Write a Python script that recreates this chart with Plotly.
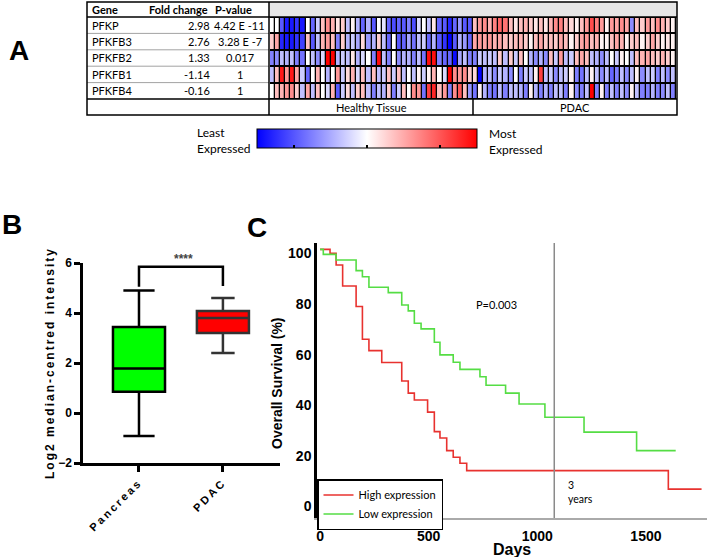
import plotly.graph_objects as go

W, H = 709, 557
def fx(px): return px / W
def fy(py): return 1 - py / H

# ---------------- Panel A data ----------------
genes = ["PFKP", "PFKFB3", "PFKFB2", "PFKFB1", "PFKFB4"]
fold_change = ["2.98", "2.76", "1.33", "-1.14", "-0.16"]
p_values = ["4.42 E -11", "3.28 E -7", "0.017", "1", "1"]
tissue_groups = ["Healthy Tissue", "PDAC"]

healthy_PFKP = [0, 0, -1.3, -1.8, -1.8, -1.6, -1.8, 0, -1.2, -0.4, 0.5, 0.9, 0.6, 0.2, 0.4, -0.5, 0.1, -0.6, -1.2, -0.6,
                -1.3, 0, -0.2, -1.2, -1.4, -1.2, -1.3, -1.0, -1.4, -0.3, 0, -0.5, 0.2, -1.2, -1.3, -1.7, -1.2, -0.8, -1.3, -1.3]
healthy_PFKFB3 = [0.4, 0.7, -1.7, -1.8, -1.8, -1.6, -1.5, 0.5, -1.3, -0.5, 0.6, 0.8, 0.5, -1.0, 0.4, -0.6, -0.4, -0.7, 0.3, -0.8,
                  -0.6, 0.4, -0.5, -1.2, 0, -1.3, -1.2, -0.7, -1.1, -0.5, -0.4, -1.2, -0.6, -1.3, -1.6, -2.0, -1.3, -0.6, -0.8, -1.2]
healthy_PFKFB2 = [-1.0, -0.9, -0.5, -0.6, -0.5, -1.0, -1.1, 0, -0.5, -0.9, -0.3, 2.0, 2.0, -0.6, -0.4, -0.5, 0.2, -0.6, -0.3, 0,
                  -1.0, 1.9, -0.5, -1.0, 0, -0.9, -0.6, -0.6, -1.0, -0.5, -1.1, 1.9, 1.9, -1.0, -1.2, -1.2, -1.9, -0.7, -0.5, -1.0]
healthy_PFKFB1 = [-0.5, 0.5, 1.8, 0.8, 1.8, 0.7, -0.4, -1.2, 0, 0.6, 0, -0.6, 0, 0.8, -0.4, 0.3, 0.6, -0.3, 0.5, -0.5,
                  0.5, -0.5, -0.4, 0.5, -0.4, 0.5, -0.5, 0, -0.5, 0.1, -0.4, 0.1, 0.6, 0, -0.3, 2.0, 0.9, 0.8, 0.9, 0.4]
healthy_PFKFB4 = [0, 0.5, 0.6, 0.8, 0.9, 0.4, -0.5, 0.7, -0.5, 0.5, 0, -0.3, 0.6, -1.3, -0.4, 0.3, -0.5, 0.4, 0.5, -0.5,
                  -1.0, -0.5, -0.6, 0.4, -1.0, -0.4, 0.5, 0, 0.9, 0.8, -1.1, 1.5, 1.7, 0.5, 0.8, -1.0, 0.9, 1.3, 0.5, -0.8]

pdac_PFKP = [0.5, 0.8, 0.9, 0.6, 1.0, 1.2, 1.1, 0.5, 0.2, 0.5, 0.6, 0.4, 0.2, 0.5, 0.2, 0.6, 0.9, 1.0, 0.5, 0.3,
             0.1, 0.5, 0.8, 1.4, 1.0, 0.8, 0.1, 0.8, 0.7, 0.9, 0.7, -0.9, 0.5, 0.4, 0.8, 0.5, 0.9, 0.6, 0.4, 0.1]
pdac_PFKFB3 = [0.7, 0.8, 0.7, 0.8, 0.6, 0.7, 0.5, 0.4, 0.5, 0.6, 0.4, 0.1, 0.5, 0.7, 0.4, 0.5, 0.4, 0.7, 0.5, 0.1,
               0.4, 0.7, 0.8, 0.5, 0.6, 0.1, 0.1, 0.5, 0.7, 0.6, 0.1, 0.4, 0.5, 0.1, 0.4, 0.7, 0.4, 0.1, 0.2, 0.1]
pdac_PFKFB2 = [-1.0, -0.4, -0.5, -0.4, -0.5, 0.4, -0.5, 0.4, -0.4, 0.5, 0, -0.6, -0.9, -0.6, -0.9, 0.5, -0.4, 0.8, -0.5, -0.4,
               0.5, 0.7, 0.5, -0.5, -0.6, -0.9, -0.5, 0, -0.4, 0.1, 0, -0.5, 0.5, 0.6, 0.7, 0.5, 0.4, 0.6, 0.4, 0.1]
pdac_PFKFB1 = [0.3, -2.0, -0.6, -0.5, -0.9, -0.4, -0.6, -0.9, 0, -1.0, -0.4, -0.5, 0.1, 1.5, -0.5, -0.4, -0.9, -0.5, -0.4, 0.1,
               -1.0, -1.1, -0.5, 0.1, -0.5, -0.9, -0.5, -1.2, -1.0, -0.5, -0.9, -0.5, 0.1, -0.9, -0.5, -0.4, -1.0, -0.5, -0.9, -0.5]
pdac_PFKFB4 = [-1.1, 0.1, -0.6, -1.0, -1.1, -0.5, -1.0, -0.5, -0.5, -0.6, -1.0, 0.1, -0.6, -1.0, -0.6, -1.0, -0.5, -0.5, -1.0, 0.1,
               -0.9, -1.0, -0.5, 2.0, -1.0, 0.1, -1.0, -0.5, -1.0, -0.5, -0.9, 0.1, -0.5, -1.0, -1.0, -0.6, -1.0, -0.9, -0.5, -1.0]

colorbar_ticks = [-1.33, 0, 1.33]

# ---------------- Panel B data ----------------
box_categories = ["Pancreas", "PDAC"]
box_q1 = [0.85, 3.2]
box_median = [1.78, 3.8]
box_q3 = [3.44, 4.08]
box_lower = [-0.92, 2.4]
box_upper = [4.9, 4.6]
box_yticks = [-2, 0, 2, 4, 6]
sig_label = "****"

# ---------------- Panel C data ----------------
days_high = [0, 46, 74, 104, 166, 195, 225, 284, 376, 406, 434, 495, 526, 552, 583, 613, 644, 675, 1603, 1756]
surv_high = [100, 98.4, 93.8, 85.5, 77.4, 64.5, 60.0, 55.3, 48.0, 43.2, 40.5, 35.7, 28.0, 25.5, 20.5, 17.9, 15.5, 12.6, 5.3, 5.3]
days_low = [0, 15, 74, 166, 195, 225, 314, 376, 406, 434, 465, 526, 552, 613, 644, 736, 764, 854, 916, 1035, 1215, 1457, 1637]
surv_low = [100, 98.0, 95.8, 91.6, 89.2, 85.0, 82.9, 78.0, 75.7, 70.8, 68.6, 63.3, 58.3, 55.4, 52.6, 49.7, 46.3, 43.2, 38.9, 33.7, 27.8, 20.5, 20.5]
km_xticks = [0, 500, 1000, 1500]
km_yticks = [0, 20, 40, 60, 80, 100]
three_years_day = 1078
p_text = "P=0.003"

# ---------------- build ----------------
healthy = [healthy_PFKP, healthy_PFKFB3, healthy_PFKFB2, healthy_PFKFB1, healthy_PFKFB4]
pdac = [pdac_PFKP, pdac_PFKFB3, pdac_PFKFB2, pdac_PFKFB1, pdac_PFKFB4]
z = [h + p for h, p in zip(healthy, pdac)]
ncol = len(z[0])

TFONT = "Lato"
AFONT = "Liberation Sans"

fig = go.Figure()

cb_x0, cb_len, cb_top, cb_th = 257, 220, 129, 19
fig.add_trace(go.Heatmap(
    z=z, x=list(range(ncol)), y=list(range(len(genes))),
    zmin=-2, zmax=2,
    colorscale=[[0, "#0000ff"], [0.5, "#ffffff"], [1, "#ff0000"]],
    xgap=1.3, ygap=2, xaxis="x", yaxis="y", hoverinfo="skip",
    colorbar=dict(orientation="h", xref="container", yref="container",
                  x=fx(cb_x0), xanchor="left", y=fy(cb_top), yanchor="top",
                  len=cb_len, lenmode="pixels", thickness=cb_th, thicknessmode="pixels",
                  outlinewidth=1, outlinecolor="black", borderwidth=0,
                  ticks="inside", ticklen=3, tickwidth=1.5, tickcolor="black",
                  tickvals=colorbar_ticks, showticklabels=False, xpad=0, ypad=0),
))

# Box plot
box_fill = ["#00ff00", "#ff0000"]
box_line = ["#000000", "#333333"]
whisk = [0.6, 0.45]
for i in range(2):
    fig.add_trace(go.Box(
        x=[i], q1=[box_q1[i]], median=[box_median[i]], q3=[box_q3[i]],
        lowerfence=[box_lower[i]], upperfence=[box_upper[i]],
        fillcolor=box_fill[i], line=dict(color=box_line[i], width=2.5),
        width=0.62, whiskerwidth=whisk[i], boxpoints=False,
        xaxis="x2", yaxis="y2", showlegend=False, hoverinfo="skip"))

# KM curves
fig.add_trace(go.Scatter(x=days_high, y=surv_high, mode="lines", line_shape="hv",
                         line=dict(color="#e8322f", width=1.6), name="High expression",
                         xaxis="x3", yaxis="y3"))
fig.add_trace(go.Scatter(x=days_low, y=surv_low, mode="lines", line_shape="hv",
                         line=dict(color="#55dd44", width=1.6), name="Low expression",
                         xaxis="x3", yaxis="y3"))

shapes = []
ann = []

# --- Table / heatmap frame ---
L, M, R = 87, 269, 677
T, HB, RB, B = 2, 17, 99, 115
shapes.append(dict(type="rect", xref="paper", yref="paper", x0=fx(M), x1=fx(R), y0=fy(HB), y1=fy(T),
                   fillcolor="#e6e6e6", line_width=0, layer="below"))
shapes.append(dict(type="rect", xref="x domain", yref="y domain", x0=0, x1=1, y0=0, y1=1,
                   fillcolor="black", line_width=0, layer="below"))
row_h = (RB - HB) / len(genes)
for k in range(1, len(genes)):
    yy = HB + k * row_h
    shapes.append(dict(type="line", xref="paper", yref="paper", x0=fx(L), x1=fx(M), y0=fy(yy), y1=fy(yy),
                       line=dict(color="#8a8a8a", width=0.8)))
for yy in (HB, RB):
    shapes.append(dict(type="line", xref="paper", yref="paper", x0=fx(L), x1=fx(R), y0=fy(yy), y1=fy(yy),
                       line=dict(color="black", width=1.5)))
shapes.append(dict(type="line", xref="paper", yref="paper", x0=fx(M), x1=fx(M), y0=fy(T), y1=fy(B),
                   line=dict(color="black", width=1.5)))
mid = (M + R) / 2
shapes.append(dict(type="line", xref="paper", yref="paper", x0=fx(mid), x1=fx(mid), y0=fy(RB), y1=fy(B),
                   line=dict(color="black", width=1.5)))
shapes.append(dict(type="rect", xref="paper", yref="paper", x0=fx(L), x1=fx(R), y0=fy(B), y1=fy(T),
                   line=dict(color="black", width=1.5)))

tf = dict(family=TFONT, size=11, color="black")
tfb = dict(family=TFONT, size=11, color="black", weight="bold")
hy = (T + HB) / 2
ann.append(dict(text="Gene", x=fx(90), y=fy(hy), xanchor="left", font=tfb))
ann.append(dict(text="Fold change", x=fx(147), y=fy(hy), xanchor="left", font=tfb))
ann.append(dict(text="P-value", x=fx(213), y=fy(hy), xanchor="left", font=tfb))
for k, g in enumerate(genes):
    yc = HB + (k + 0.5) * row_h
    ann.append(dict(text=g, x=fx(90), y=fy(yc), xanchor="left", font=tf))
    ann.append(dict(text=fold_change[k], x=fx(212), y=fy(yc), xanchor="right", font=tf))
    ann.append(dict(text=p_values[k], x=fx(240), y=fy(yc), xanchor="center", font=tf))
by = (RB + B) / 2
ann.append(dict(text=tissue_groups[0], x=fx((M + mid) / 2), y=fy(by), xanchor="center", font=tf))
ann.append(dict(text=tissue_groups[1], x=fx((mid + R) / 2), y=fy(by), xanchor="center", font=tf))

# colour bar labels and top tick marks
cf = dict(family=TFONT, size=12, color="black")
ann.append(dict(text="Least<br>Expressed", x=fx(195), y=fy(140), xanchor="left", align="left", font=cf))
ann.append(dict(text="Most<br>Expressed", x=fx(487), y=fy(141), xanchor="left", align="left", font=cf))
for tv in colorbar_ticks:
    px = cb_x0 + (tv + 2) / 4 * cb_len
    shapes.append(dict(type="line", xref="paper", yref="paper", x0=fx(px), x1=fx(px),
                       y0=fy(cb_top), y1=fy(cb_top + 3), line=dict(color="black", width=1.5)))

# panel letters
lf = dict(family=AFONT, size=28, color="black", weight="bold")
ann.append(dict(text="A", x=fx(19), y=fy(50), font=lf))
ann.append(dict(text="B", x=fx(12), y=fy(224), font=lf))
ann.append(dict(text="C", x=fx(257), y=fy(227), font=lf))

# --- Panel B extras ---
shapes.append(dict(type="path", xref="x2", yref="y2",
                   path="M 0 5.05 L 0 5.85 L 1 5.85 L 1 5.08",
                   line=dict(color="black", width=2.5)))
ann.append(dict(text=sig_label, x=fx(183), y=fy(259),
                font=dict(family=AFONT, size=12, color="#444444", weight="bold")))
ann.append(dict(text='<span style="letter-spacing:2px">Log2 median-centred intensity</span>',
                x=fx(50), y=fy(363), textangle=-90,
                font=dict(family=AFONT, size=12, color="black", weight="bold")))

# --- Panel C extras ---
shapes.append(dict(type="line", xref="x3", yref="y3 domain", x0=three_years_day, x1=three_years_day,
                   y0=0, y1=1, line=dict(color="#8a8a8a", width=1.5)))
ann.append(dict(text="3<br>years", x=fx(566), y=fy(492), xanchor="left", align="left",
                font=dict(family=TFONT, size=10.5, color="black")))
ann.append(dict(text=p_text, x=fx(496), y=fy(304), font=dict(family=TFONT, size=11, color="black")))
ann.append(dict(text="Overall Survival (%)", x=fx(277), y=fy(383), textangle=-90,
                font=dict(family=AFONT, size=14, color="black", weight="bold")))
ann.append(dict(text="Days", x=fx(512), y=fy(549),
                font=dict(family=AFONT, size=16, color="black", weight="bold")))

for a in ann:
    a.setdefault("xref", "paper")
    a.setdefault("yref", "paper")
    a.setdefault("xanchor", "center")
    a.setdefault("yanchor", "middle")
    a.setdefault("showarrow", False)

bold11 = dict(family=AFONT, size=12, color="black", weight="bold")
bold14 = dict(family=AFONT, size=14, color="black", weight="bold")

fig.update_layout(
    template="none",
    width=W, height=H, autosize=False,
    margin=dict(l=0, r=0, t=0, b=0, pad=0, autoexpand=False),
    paper_bgcolor="white", plot_bgcolor="rgba(0,0,0,0)",
    shapes=shapes, annotations=ann,
    xaxis=dict(domain=[fx(270), fx(676)], anchor="y", range=[-0.5, ncol - 0.5], visible=False,
               fixedrange=True, automargin=False),
    yaxis=dict(domain=[fy(RB), fy(HB)], anchor="x", range=[len(genes) - 0.5, -0.5], visible=False,
               fixedrange=True, automargin=False),
    xaxis2=dict(domain=[fx(83), fx(280)], anchor="y2", range=[-0.667, 1.68],
                tickvals=[0, 1],
                ticktext=['<span style="letter-spacing:2.5px">%s</span>' % c for c in box_categories],
                tickangle=-45, tickfont=dict(family=AFONT, size=11, color="black", weight="bold"),
                showline=True, linecolor="black", linewidth=2.5, ticks="outside", ticklen=6,
                tickwidth=2.5, tickcolor="black", showgrid=False, zeroline=False, automargin=False),
    yaxis2=dict(domain=[fy(463), fy(263)], anchor="x2", range=[-2, 6], tickvals=box_yticks,
                tickfont=bold11, showline=True, linecolor="black", linewidth=2.5,
                ticks="outside", ticklen=6, tickwidth=2.5, tickcolor="black",
                showgrid=False, zeroline=False, automargin=False),
    xaxis3=dict(domain=[fx(317), fx(707)], anchor="y3", range=[-14, 1781], tickvals=km_xticks,
                tickfont=bold14, showline=True, linecolor="#aaaaaa", linewidth=1.5, ticks="",
                ticklabelstandoff=4, showgrid=False, zeroline=False, automargin=False),
    yaxis3=dict(domain=[fy(518), fy(243)], anchor="x3", range=[-6.1, 102.5], tickvals=km_yticks,
                tickfont=bold14, showline=True, linecolor="black", linewidth=2.5, ticks="",
                ticklabelshift=4, showgrid=False, zeroline=False, automargin=False),
    legend=dict(x=fx(317), y=fy(479), xanchor="left", yanchor="top", bgcolor="white",
                bordercolor="black", borderwidth=1.5, font=dict(family=TFONT, size=11, color="black"),
                tracegroupgap=0, itemwidth=30),
    showlegend=True,
)

fig.write_html("out.html", config={"displayModeBar": False},
               post_script="document.body.style.margin='0px';document.body.style.padding='0px';")
